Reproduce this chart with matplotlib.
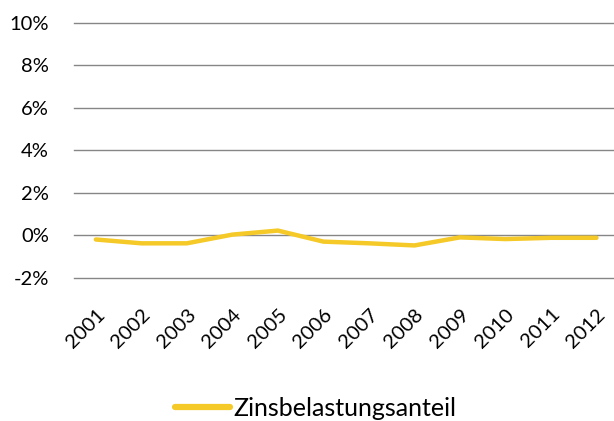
import matplotlib
matplotlib.use("Agg")
import matplotlib.pyplot as plt
from matplotlib.ticker import FuncFormatter

years = ["2001", "2002", "2003", "2004", "2005", "2006", "2007", "2008", "2009", "2010", "2011", "2012"]
zinsbelastungsanteil = [-0.20, -0.38, -0.38, 0.03, 0.22, -0.30, -0.38, -0.48, -0.10, -0.18, -0.12, -0.12]
yticks = [-2, 0, 2, 4, 6, 8, 10]

plt.rcParams['font.family'] = ['Lato', 'DejaVu Sans']

fig = plt.figure(figsize=(6.14, 4.21), dpi=100)
ax = fig.add_axes([74/614, 1 - 277.7/421, 1 - 74/614 + 0.01, (277.7 - 23)/421])

x = list(range(len(years)))
ax.plot(x, zinsbelastungsanteil, color='#F5C928', lw=3.2, solid_capstyle='round',
        solid_joinstyle='round', label='Zinsbelastungsanteil', zorder=3)

ax.set_ylim(-2, 10)
ax.set_yticks(yticks)
ax.yaxis.set_major_formatter(FuncFormatter(lambda v, p: f"{v:.0f}%"))
ax.set_xlim(-0.48, 11.52)
ax.set_xticks(x)
ax.set_xticklabels(years, rotation=45, ha='right', rotation_mode='anchor')
ax.grid(axis='y', color='#868686', lw=1.0)
for gl in ax.get_ygridlines():
    gl.set_clip_on(False)
ax.set_axisbelow(True)
for s in ax.spines.values():
    s.set_visible(False)
ax.tick_params(axis='both', length=0, labelsize=14.5, colors='#000000')
ax.tick_params(axis='y', pad=18)
ax.tick_params(axis='x', pad=20)

leg = ax.legend(loc='center', bbox_to_anchor=(316/614, 1 - 408/421), bbox_transform=fig.transFigure,
                frameon=False, fontsize=18, handlelength=2.2, handletextpad=0.15)
for h in leg.get_lines():
    h.set_linewidth(4.5)

fig.savefig("out.png", dpi=100)
